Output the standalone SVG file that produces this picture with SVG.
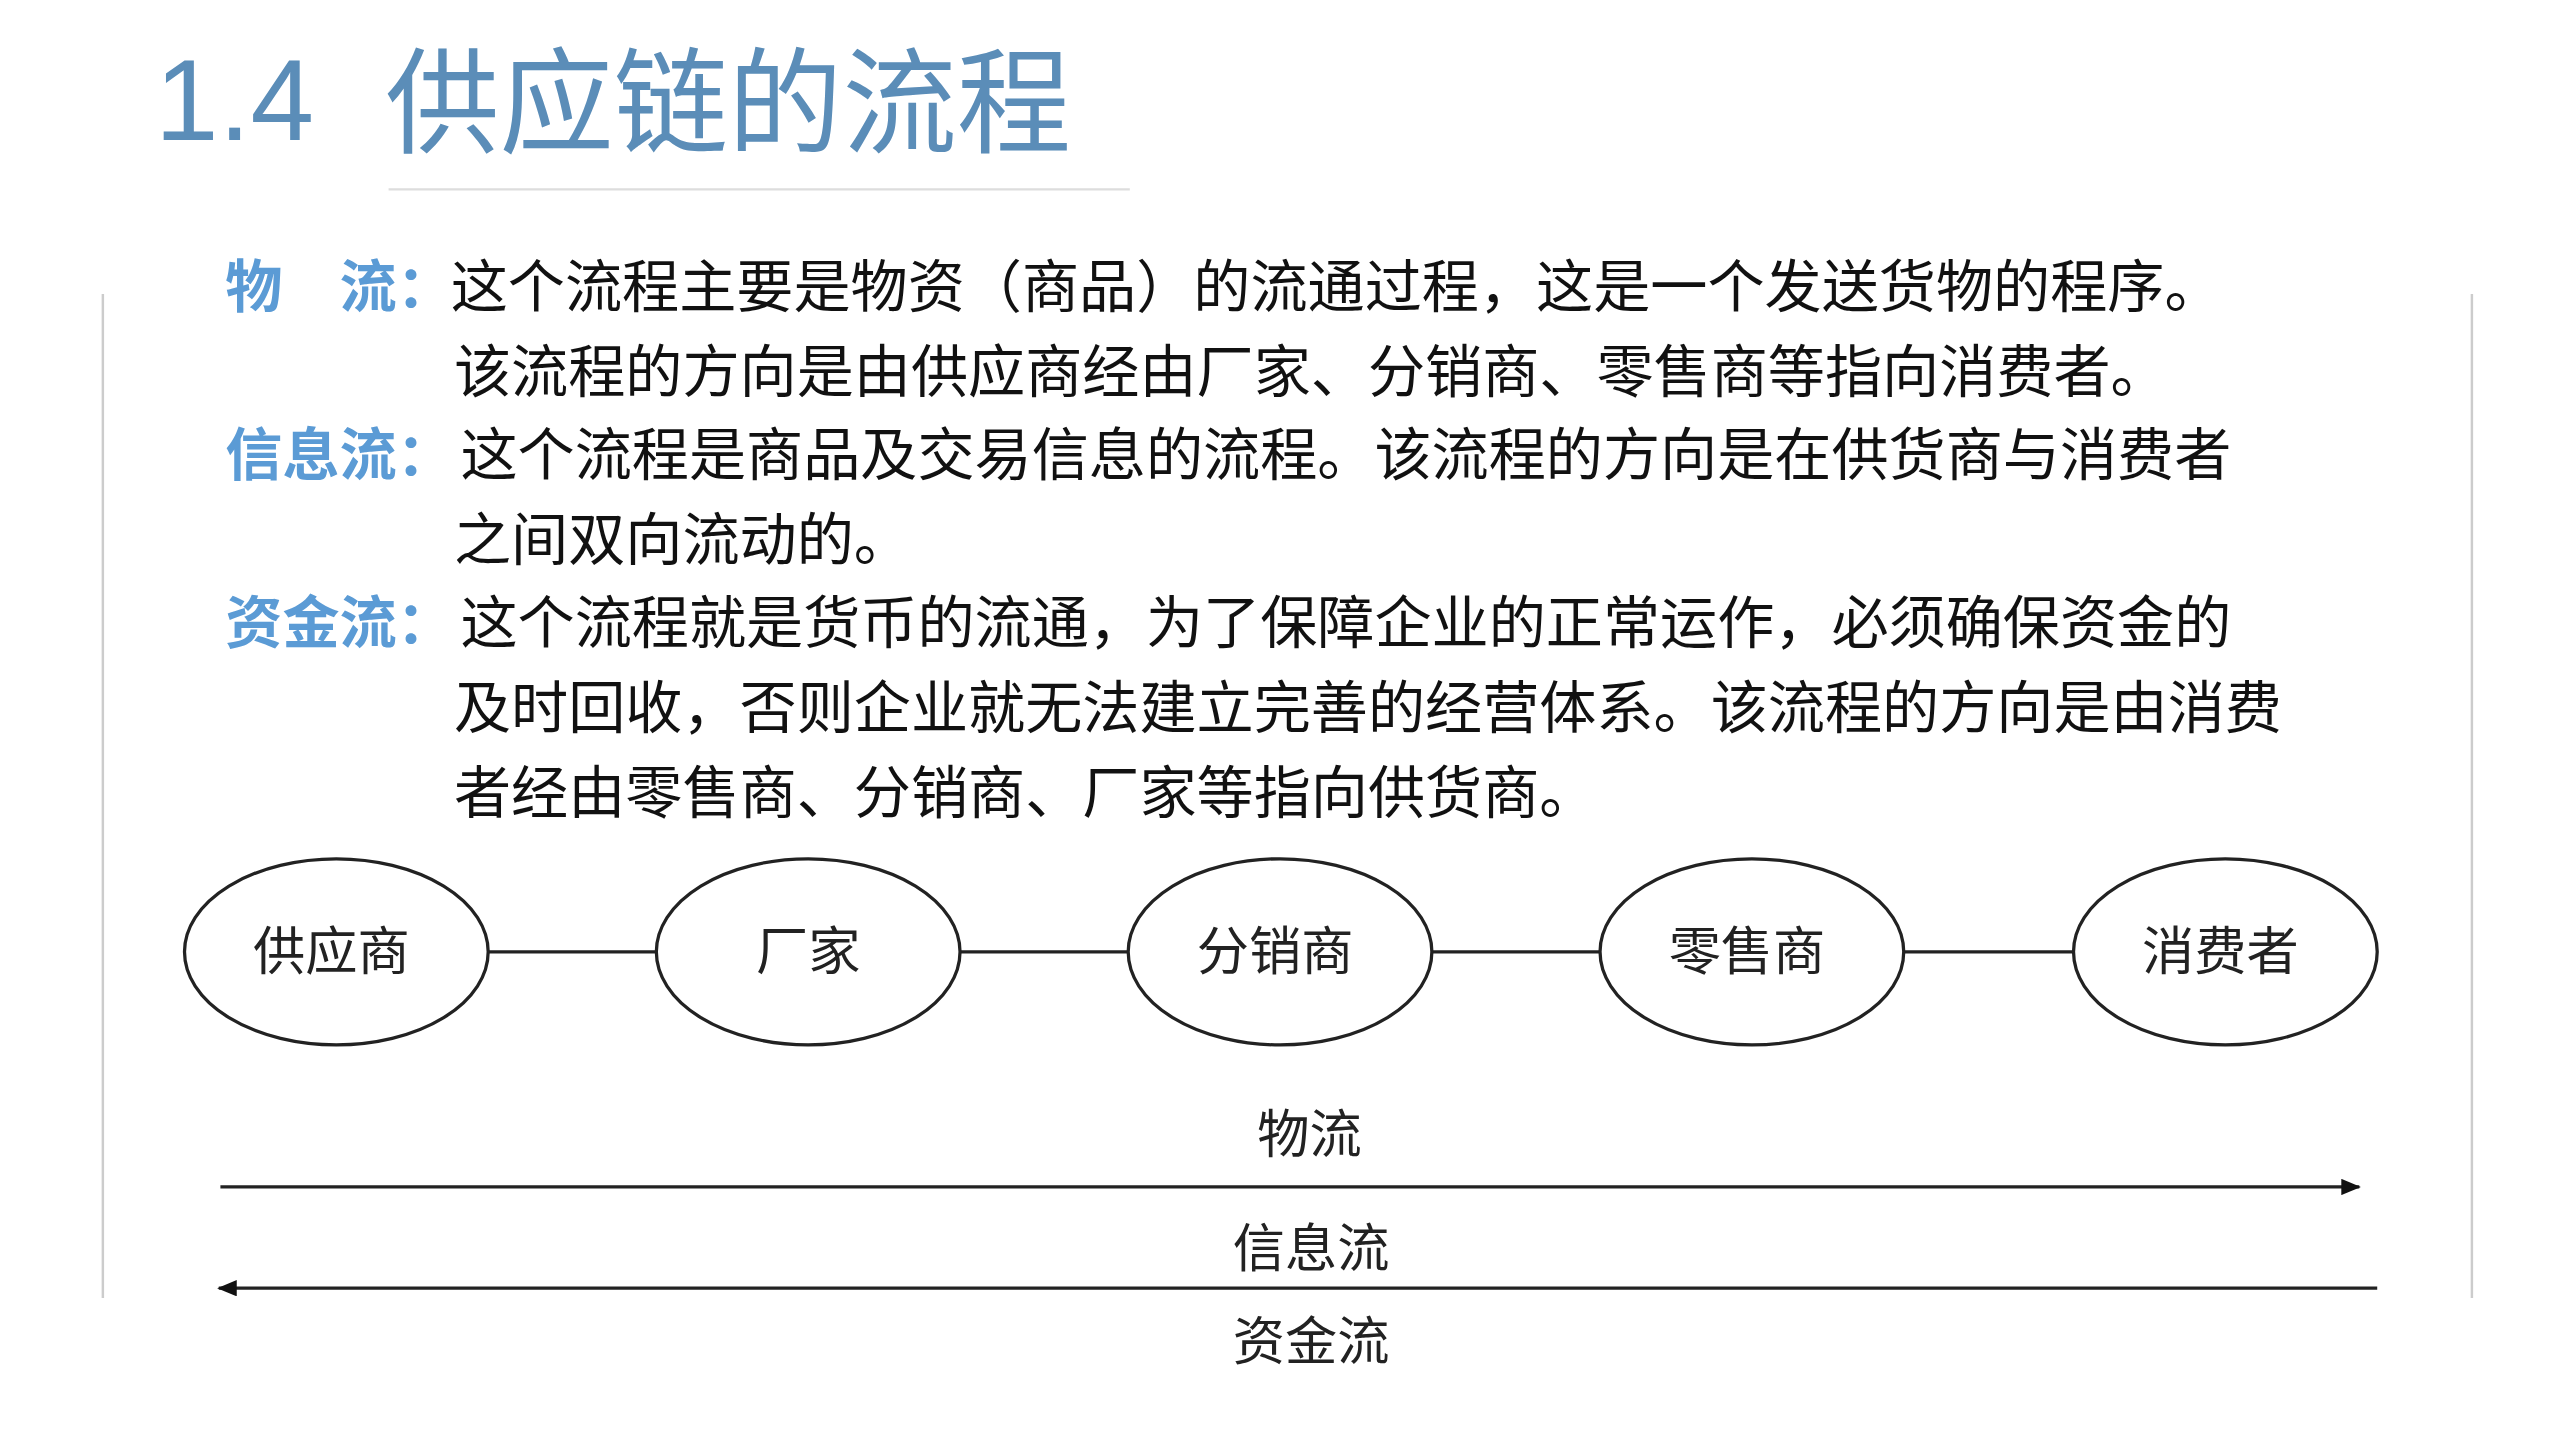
<svg xmlns="http://www.w3.org/2000/svg" width="2560" height="1440" viewBox="0 0 2560 1440">
<defs>
<style>
text{font-family:"Noto Sans CJK SC","Liberation Sans",sans-serif;}
.b{font-size:35px;fill:#111;}
.l{font-size:35px;fill:#5b9bd5;font-weight:bold;}
.n{font-size:32px;fill:#222;text-anchor:middle;}
.e{fill:#fff;stroke:#222;stroke-width:2;}
.c{stroke:#222;stroke-width:2;fill:none;}
</style>
<marker id="ar" markerWidth="12" markerHeight="10" refX="11" refY="5" orient="auto" markerUnits="userSpaceOnUse"><path d="M0,0 L12,5 L0,10 Z" fill="#111"/></marker>
</defs>
<rect width="2560" height="1440" fill="#fff"/>
<g transform="scale(1.6327)">
<text x="95" y="86" style="font-size:70px;fill:#5b8db8;font-family:'Liberation Sans','Noto Sans CJK SC',sans-serif">1.4</text>
<text x="236" y="88" style="font-size:70px;fill:#5b8db8">供应链的流程</text>
<line x1="238" y1="116" x2="692" y2="116" stroke="#ddd" stroke-width="1.5"/>
<line x1="63" y1="180" x2="63" y2="795" stroke="#ccc" stroke-width="1.5"/>
<line x1="1514" y1="180" x2="1514" y2="795" stroke="#ccc" stroke-width="1.5"/>
<g id="text">
<text class="l" x="138" y="188">物　流：</text>
<text class="b" x="276" y="188">这个流程主要是物资（商品）的流通过程，这是一个发送货物的程序。</text>
<text class="b" x="278" y="240">该流程的方向是由供应商经由厂家、分销商、零售商等指向消费者。</text>
<text class="l" x="138" y="291">信息流：</text>
<text class="b" x="282" y="291">这个流程是商品及交易信息的流程。该流程的方向是在供货商与消费者</text>
<text class="b" x="278" y="343">之间双向流动的。</text>
<text class="l" x="138" y="394">资金流：</text>
<text class="b" x="282" y="394">这个流程就是货币的流通，为了保障企业的正常运作，必须确保资金的</text>
<text class="b" x="278" y="446">及时回收，否则企业就无法建立完善的经营体系。该流程的方向是由消费</text>
<text class="b" x="278" y="498">者经由零售商、分销商、厂家等指向供货商。</text>
</g>
<g id="connectors">
<line class="c" x1="299" y1="583" x2="402" y2="583"/>
<line class="c" x1="588" y1="583" x2="691" y2="583"/>
<line class="c" x1="877" y1="583" x2="980" y2="583"/>
<line class="c" x1="1166" y1="583" x2="1270" y2="583"/>
<line class="c" x1="135" y1="727" x2="1445" y2="727" marker-end="url(#ar)"/>
<line class="c" x1="1456" y1="789" x2="134" y2="789" marker-end="url(#ar)"/>
<text class="n" x="802" y="706">物流</text>
<text class="n" x="803" y="776">信息流</text>
<text class="n" x="803" y="833">资金流</text>
</g>
<g id="n1"><ellipse class="e" cx="206" cy="583" rx="93" ry="57"/><text class="n" x="203" y="594">供应商</text></g>
<g id="n2"><ellipse class="e" cx="495" cy="583" rx="93" ry="57"/><text class="n" x="495" y="594">厂家</text></g>
<g id="n3"><ellipse class="e" cx="784" cy="583" rx="93" ry="57"/><text class="n" x="781" y="594">分销商</text></g>
<g id="n4"><ellipse class="e" cx="1073" cy="583" rx="93" ry="57"/><text class="n" x="1070" y="594">零售商</text></g>
<g id="n5"><ellipse class="e" cx="1363" cy="583" rx="93" ry="57"/><text class="n" x="1360" y="594">消费者</text></g>
</g>
</svg>
